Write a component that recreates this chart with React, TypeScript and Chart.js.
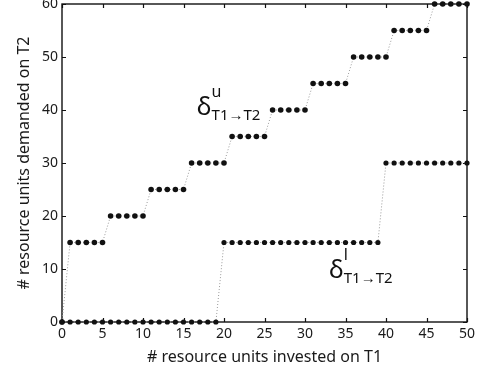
import React, { useEffect, useRef } from "react";
import { Chart, registerables } from "chart.js";

Chart.register(...registerables);

// ---- data ----
const investedT1 = [
  0, 1, 2, 3, 4, 5, 6, 7, 8, 9, 10,
  11, 12, 13, 14, 15, 16, 17, 18, 19, 20,
  21, 22, 23, 24, 25, 26, 27, 28, 29, 30,
  31, 32, 33, 34, 35, 36, 37, 38, 39, 40,
  41, 42, 43, 44, 45, 46, 47, 48, 49, 50,
];
const upperDemand = [
  0, 15, 15, 15, 15, 15, 20, 20, 20, 20, 20,
  25, 25, 25, 25, 25, 30, 30, 30, 30, 30,
  35, 35, 35, 35, 35, 40, 40, 40, 40, 40,
  45, 45, 45, 45, 45, 50, 50, 50, 50, 50,
  55, 55, 55, 55, 55, 60, 60, 60, 60, 60,
];
const lowerDemand = [
  0, 0, 0, 0, 0, 0, 0, 0, 0, 0, 0,
  0, 0, 0, 0, 0, 0, 0, 0, 0, 15,
  15, 15, 15, 15, 15, 15, 15, 15, 15, 15,
  15, 15, 15, 15, 15, 15, 15, 15, 15, 30,
  30, 30, 30, 30, 30, 30, 30, 30, 30, 30,
];
const xTickValues = [0, 5, 10, 15, 20, 25, 30, 35, 40, 45, 50];
const yTickValues = [0, 10, 20, 30, 40, 50, 60];
const xTitle = "# resource units invested on T1";
const yTitle = "# resource units demanded on T2";
// label anchors in data coordinates
const upperLabel = { x: 16.65, y: 39.0, sup: "u", sub: "T1\u2192T2" };
const lowerLabel = { x: 32.97, y: 8.3, sup: "l", sub: "T1\u2192T2" };

const FONT = "'Noto Sans', sans-serif";

const framePlugin = {
  id: "frameTicks",
  beforeDatasetsDraw(chart: any) {
    const { ctx, chartArea, scales } = chart;
    const { left, right, top, bottom } = chartArea;
    ctx.save();
    ctx.strokeStyle = "#111";
    ctx.lineWidth = 1.2;
    ctx.beginPath();
    const tl = 4;
    xTickValues.forEach((v) => {
      const px = Math.round(scales.x.getPixelForValue(v)) + 0.5;
      ctx.moveTo(px, bottom);
      ctx.lineTo(px, bottom - tl);
      ctx.moveTo(px, top);
      ctx.lineTo(px, top + tl);
    });
    yTickValues.forEach((v) => {
      const py = Math.round(scales.y.getPixelForValue(v)) + 0.5;
      ctx.moveTo(left, py);
      ctx.lineTo(left + tl, py);
      ctx.moveTo(right, py);
      ctx.lineTo(right - tl, py);
    });
    ctx.stroke();
    ctx.lineWidth = 1.4;
    ctx.strokeRect(left, top, right - left, bottom - top);
    ctx.restore();
  },
};

const labelPlugin = {
  id: "deltaLabels",
  afterDraw(chart: any) {
    const { ctx, scales } = chart;
    ctx.save();
    ctx.fillStyle = "#111";
    ctx.textBaseline = "alphabetic";
    ctx.textAlign = "left";
    [upperLabel, lowerLabel].forEach((lab) => {
      const px = scales.x.getPixelForValue(lab.x);
      const py = scales.y.getPixelForValue(lab.y);
      ctx.font = `25px ${FONT}`;
      ctx.fillText("\u03b4", px, py);
      const w = ctx.measureText("\u03b4").width;
      ctx.font = `16px ${FONT}`;
      ctx.fillText(lab.sup, px + w, py - 18);
      ctx.font = `15px ${FONT}`;
      ctx.fillText(lab.sub, px + w, py + 5);
    });
    ctx.restore();
  },
};

export default function App() {
  const ref = useRef<HTMLCanvasElement | null>(null);

  useEffect(() => {
    if (!ref.current) return;
    const chart = new Chart(ref.current, {
      type: "line",
      data: {
        datasets: [
          {
            label: "upper",
            data: investedT1.map((x, i) => ({ x, y: upperDemand[i] })),
            borderColor: "#9a9a9a",
            borderWidth: 1,
            borderDash: [1, 2],
            pointRadius: 2.8,
            pointBackgroundColor: "#111",
            pointBorderColor: "#111",
            pointBorderWidth: 0,
            tension: 0,
            clip: false,
          },
          {
            label: "lower",
            data: investedT1.map((x, i) => ({ x, y: lowerDemand[i] })),
            borderColor: "#9a9a9a",
            borderWidth: 1,
            borderDash: [1, 2],
            pointRadius: 2.6,
            pointBackgroundColor: "#111",
            pointBorderColor: "#111",
            pointBorderWidth: 0,
            tension: 0,
            clip: false,
          },
        ],
      },
      options: {
        responsive: false,
        animation: false,
        layout: { padding: { top: 4, right: 18, left: 0, bottom: 0 } },
        plugins: {
          legend: { display: false },
          tooltip: { enabled: false },
        },
        scales: {
          x: {
            type: "linear",
            min: 0,
            max: 50,
            afterBuildTicks(s: any) {
              s.ticks = xTickValues.map((v) => ({ value: v }));
            },
            afterFit(s: any) {
              s.height = 51;
              s.paddingLeft = 0;
              s.paddingRight = 0;
            },
            ticks: {
              padding: 4,
              color: "#1a1a1a",
              font: { family: FONT, size: 14 },
              maxRotation: 0,
              autoSkip: false,
            },
            grid: { display: false, drawTicks: false },
            border: { display: false },
            title: {
              display: true,
              text: xTitle,
              color: "#1a1a1a",
              font: { family: FONT, size: 16 },
              padding: { top: 0, bottom: 6 },
            },
          },
          y: {
            type: "linear",
            min: 0,
            max: 60,
            afterBuildTicks(s: any) {
              s.ticks = yTickValues.map((v) => ({ value: v }));
            },
            afterFit(s: any) {
              s.width = 62;
              s.paddingTop = 0;
              s.paddingBottom = 0;
            },
            ticks: {
              padding: 4,
              color: "#1a1a1a",
              font: { family: FONT, size: 14 },
              autoSkip: false,
            },
            grid: { display: false, drawTicks: false },
            border: { display: false },
            title: {
              display: true,
              text: yTitle,
              color: "#1a1a1a",
              font: { family: FONT, size: 16 },
              padding: { top: 15, bottom: 0 },
            },
          },
        },
      },
      plugins: [framePlugin, labelPlugin],
    } as any);
    return () => chart.destroy();
  }, []);

  return (
    <div
      style={{
        position: "fixed",
        left: 0,
        top: 0,
        width: 485,
        height: 373,
        overflow: "hidden",
        background: "#fff",
      }}
    >
      <canvas ref={ref} width={485} height={373} style={{ display: "block" }} />
    </div>
  );
}
